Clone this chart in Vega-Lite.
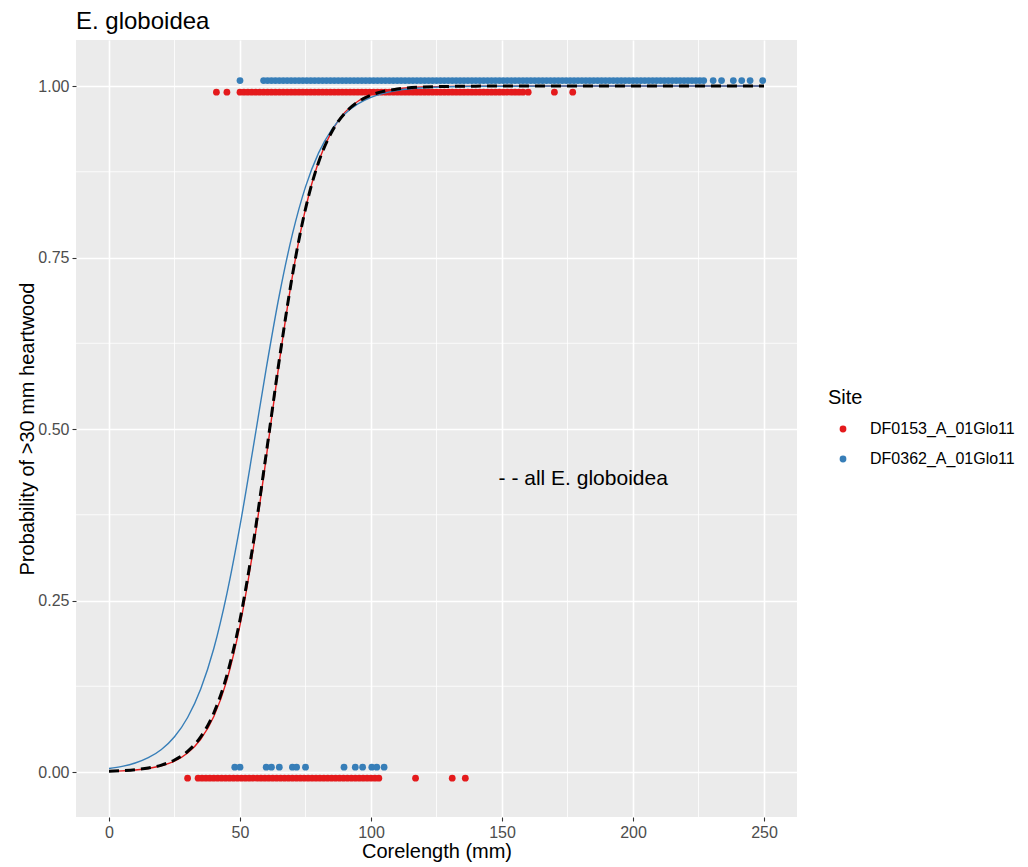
{
  "$schema": "https://vega.github.io/schema/vega-lite/v6.json",
  "width": 721,
  "height": 777,
  "autosize": {"type": "none"},
  "padding": {"left": 76, "top": 40, "right": 231, "bottom": 50},
  "background": "white",
  "title": {"text": "E. globoidea", "anchor": "start", "frame": "group", "fontSize": 24, "font": "Liberation Sans", "fontWeight": "normal", "color": "black", "baseline": "alphabetic", "offset": 13, "dy": 26},
  "config": {
    "view": {"fill": "#EBEBEB", "stroke": null},
    "axis": {"gridColor": "white", "gridWidth": 1.6, "domain": false, "tickColor": "#333333", "tickSize": 4, "tickWidth": 1.1, "labelColor": "#4D4D4D", "labelFont": "Liberation Sans", "labelFontSize": 16, "labelPadding": 3, "titleFont": "Liberation Sans", "titleFontSize": 20, "titleFontWeight": "normal", "titleColor": "black"},
    "legend": {"titleFont": "Liberation Sans", "titleFontSize": 20, "titleFontWeight": "normal", "titleColor": "black", "labelFont": "Liberation Sans", "labelFontSize": 16, "labelColor": "black", "symbolType": "circle", "symbolSize": 46, "symbolStrokeWidth": 0, "symbolOpacity": 1, "rowPadding": 14, "titlePadding": 13, "labelOffset": 19, "symbolOffset": 7}
  },
  "datasets": {
    "curves": [
      {"curve": "DF0153_A_01Glo11", "x": [0,5,10,15,20,25,30,35,40,45,50,55,60,65,70,75,80,85,90,95,100,110,120,140,170,200,250], "y": [0.00096,0.00169,0.00296,0.00519,0.00911,0.0159,0.0277,0.0477,0.0809,0.134,0.214,0.324,0.458,0.598,0.723,0.821,0.890,0.934,0.9616,0.9778,0.9873,0.99585,0.99865,0.99986,1.0,1.0,1.0]},
      {"curve": "DF0362_A_01Glo11", "x": [0,5,10,15,20,25,30,35,40,45,50,55,60,65,70,75,80,85,90,95,100,110,120,140,170,200,250], "y": [0.00519,0.00827,0.0131,0.0208,0.0328,0.0513,0.0794,0.121,0.180,0.260,0.359,0.472,0.588,0.695,0.784,0.853,0.9025,0.9366,0.9593,0.974,0.9836,0.9935,0.99744,0.9996,1.0,1.0,1.0]},
      {"curve": "all", "x": [0,5,10,15,20,25,30,35,40,45,50,55,60,65,70,75,80,85,90,95,100,110,120,140,170,200,250], "y": [0.00111,0.00193,0.00336,0.00583,0.0101,0.0175,0.030,0.0512,0.086,0.141,0.222,0.332,0.464,0.601,0.724,0.821,0.889,0.933,0.9603,0.9768,0.9866,0.99553,0.99852,0.99984,1.0,1.0,1.0]}
    ],
    "points": [
      {"site": "DF0153_A_01Glo11", "y": 0.991, "x": [41,45,50,51.5,53,54.5,56,57.5,59,60.5,62,63.5,65,66.5,68,69.5,71,72.5,74,75.5,77,78.5,80,81.5,83,84.5,86,87.5,89,90.5,92,93.5,95,96.5,98,99.5,101,102.5,104,105.5,107,108.5,110,111.5,113,114.5,116,117.5,119,120.5,122,123.5,125,126.5,128,129.5,131,132.5,134,135.5,137,138.5,140,141.5,143,144.5,146,147.5,149,150.5,152,153.5,155,156.5,158,160,170,177]},
      {"site": "DF0153_A_01Glo11", "y": -0.009, "x": [30,34,35.5,37,38.5,40,41.5,43,44.5,46,47.5,49,50.5,52,53.5,55,56.5,58,59.5,61,62.5,64,65.5,67,68.5,70,71.5,73,74.5,76,77.5,79,80.5,82,83.5,85,86.5,88,89.5,91,92.5,94,95.5,97,98.5,100,101.5,103,117,131,136]},
      {"site": "DF0362_A_01Glo11", "y": 1.008, "x": [50,59,60.5,62,63.5,65,66.5,68,69.5,71,72.5,74,75.5,77,78.5,80,81.5,83,84.5,86,87.5,89,90.5,92,93.5,95,96.5,98,99.5,101,102.5,104,105.5,107,108.5,110,111.5,113,114.5,116,117.5,119,120.5,122,123.5,125,126.5,128,129.5,131,132.5,134,135.5,137,138.5,140,141.5,143,144.5,146,147.5,149,150.5,152,153.5,155,156.5,158,159.5,161,162.5,164,165.5,167,168.5,170,171.5,173,174.5,176,177.5,179,180.5,182,183.5,185,186.5,188,189.5,191,192.5,194,195.5,197,198.5,200,201.5,203,204.5,206,207.5,209,210.5,212,213.5,215,216.5,218,219.5,221,222.5,224,225.5,227,230.6,233.8,238.3,241.5,244.7,249.5]},
      {"site": "DF0362_A_01Glo11", "y": 0.007, "x": [48,50,60,62,65,70,71.6,75,89.7,94,96.8,100.3,102.2,105]}
    ]
  },
  "layer": [
    {
      "data": {"values": [{"x": 25}, {"x": 75}, {"x": 125}, {"x": 175}, {"x": 225}]},
      "mark": {"type": "rule", "color": "white", "strokeWidth": 0.8},
      "encoding": {"x": {"field": "x", "type": "quantitative", "title": "Corelength (mm)", "scale": {"domain": [-12.6, 262.6], "nice": false, "zero": false}}}
    },
    {
      "data": {"values": [{"y": 0.125}, {"y": 0.375}, {"y": 0.625}, {"y": 0.875}]},
      "mark": {"type": "rule", "color": "white", "strokeWidth": 0.8},
      "encoding": {"y": {"field": "y", "type": "quantitative", "title": "Probability of >30 mm heartwood", "scale": {"domain": [-0.0656, 1.0671], "nice": false, "zero": false}}}
    },
    {
      "data": {"name": "points"},
      "transform": [{"flatten": ["x"]}],
      "mark": {"type": "circle", "size": 46, "opacity": 1},
      "encoding": {
        "x": {"field": "x", "type": "quantitative", "title": "Corelength (mm)", "scale": {"domain": [-12.6, 262.6], "nice": false, "zero": false}, "axis": {"values": [0, 50, 100, 150, 200, 250], "titlePadding": 1}},
        "y": {"field": "y", "type": "quantitative", "title": "Probability of >30 mm heartwood", "scale": {"domain": [-0.0656, 1.0671], "nice": false, "zero": false}, "axis": {"values": [0, 0.25, 0.5, 0.75, 1], "format": ".2f", "titlePadding": 0}},
        "color": {"field": "site", "type": "nominal", "scale": {"domain": ["DF0153_A_01Glo11", "DF0362_A_01Glo11"], "range": ["#E41A1C", "#377EB8"]}, "legend": {"title": "Site", "orient": "none", "legendX": 752, "legendY": 348}}
      }
    },
    {
      "data": {"name": "curves"},
      "transform": [{"flatten": ["x", "y"]}, {"filter": "datum.curve === 'DF0153_A_01Glo11'"}],
      "mark": {"type": "line", "color": "#E41A1C", "strokeWidth": 1.4, "interpolate": "monotone"},
      "encoding": {
        "x": {"field": "x", "type": "quantitative", "title": "Corelength (mm)"},
        "y": {"field": "y", "type": "quantitative", "title": "Probability of >30 mm heartwood"}
      }
    },
    {
      "data": {"name": "curves"},
      "transform": [{"flatten": ["x", "y"]}, {"filter": "datum.curve === 'DF0362_A_01Glo11'"}],
      "mark": {"type": "line", "color": "#377EB8", "strokeWidth": 1.4, "interpolate": "monotone"},
      "encoding": {
        "x": {"field": "x", "type": "quantitative", "title": "Corelength (mm)"},
        "y": {"field": "y", "type": "quantitative", "title": "Probability of >30 mm heartwood"}
      }
    },
    {
      "data": {"name": "curves"},
      "transform": [{"flatten": ["x", "y"]}, {"filter": "datum.curve === 'all'"}],
      "mark": {"type": "line", "color": "black", "strokeWidth": 3, "strokeDash": [10, 6], "interpolate": "monotone"},
      "encoding": {
        "x": {"field": "x", "type": "quantitative", "title": "Corelength (mm)"},
        "y": {"field": "y", "type": "quantitative", "title": "Probability of >30 mm heartwood"}
      }
    },
    {
      "data": {"values": [{"x": 181, "y": 0.427, "label": "- - all E. globoidea"}]},
      "mark": {"type": "text", "font": "Liberation Sans", "fontSize": 21, "color": "black", "align": "center", "baseline": "middle"},
      "encoding": {
        "x": {"field": "x", "type": "quantitative", "title": "Corelength (mm)"},
        "y": {"field": "y", "type": "quantitative", "title": "Probability of >30 mm heartwood"},
        "text": {"field": "label"}
      }
    }
  ]
}
